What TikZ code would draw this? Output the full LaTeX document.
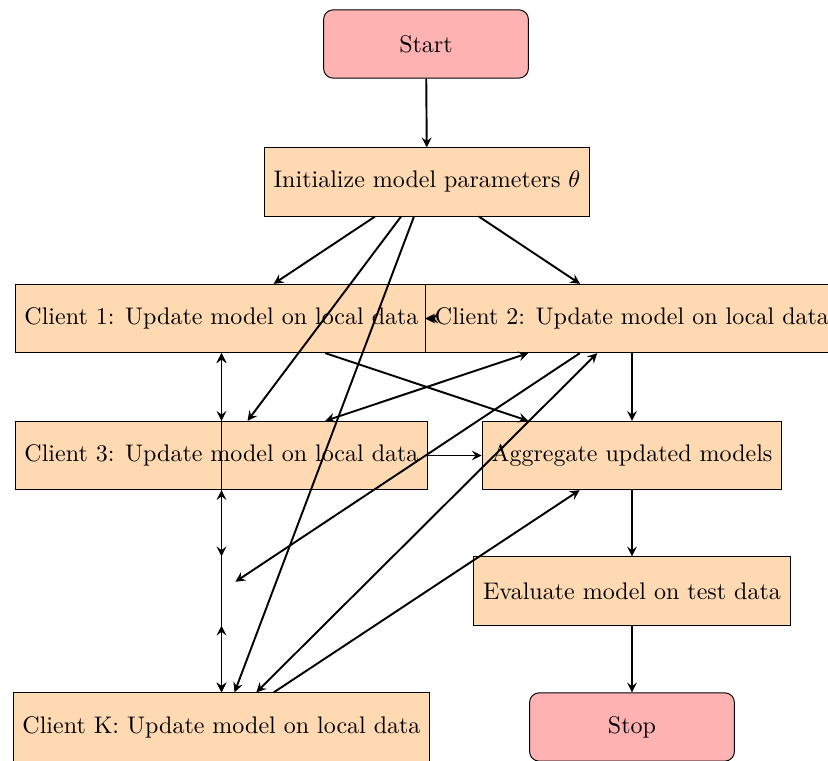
\documentclass[tikz,border=0pt]{standalone}
\usetikzlibrary{arrows}
\tikzset{
  startstop/.style={rectangle, rounded corners, minimum width=3cm, minimum height=1cm, text centered, draw=black, fill=red!30},
  process/.style={rectangle, minimum width=3cm, minimum height=1cm, inner xsep=3.9pt, text centered, draw=black, fill=orange!30},
  hidden/.style={rectangle, minimum width=11.2pt, minimum height=1cm, inner sep=0pt},
  conn/.style={thick, ->, >=stealth},
  biconn/.style={thick, <->, >=stealth}
}
\begin{document}
\begin{tikzpicture}[x=0.41667pt, y=-0.41667pt]
\useasboundingbox (0,0) rectangle (828,761);
\node[startstop] (start) at (426,44) {Start};
\node[process] (init) at (427,182) {Initialize model parameters $\theta$};
\node[process] (c1) at (221.5,318.5) {Client 1: Update model on local data};
\node[process] (c2) at (632,318.5) {Client 2: Update model on local data};
\node[process] (c3) at (221.5,455.5) {Client 3: Update model on local data};
\node[process] (agg) at (632,455.5) {Aggregate updated models};
\node[hidden] (dots) at (221.5,591) {};
\node[process] (eval) at (632,591) {Evaluate model on test data};
\node[process] (cK) at (221.5,727) {Client K: Update model on local data};
\node[startstop] (stop) at (632,727) {Stop};

\draw[conn] (start) -- (init);
\draw[conn] (init) -- (c1);
\draw[conn] (init) -- (c2);
\draw[conn] (init) -- (c3);
\draw[conn] (init) -- (cK);
\draw[biconn] (c1) -- (c2);
\draw[biconn] (c1) -- (c3);
\draw[biconn] (c1) -- (cK);
\draw[biconn] (c3) -- (dots);
\draw[biconn] (dots) -- (cK);
\draw[biconn] (c2) -- (c3);
\draw[biconn] (c2) -- (cK);
\draw[conn] (c2) -- (dots);
\draw[conn] (c1) -- (agg);
\draw[conn] (c2) -- (agg);
\draw[conn] (c3) -- (agg);
\draw[conn] (cK) -- (agg);
\draw[conn] (agg) -- (eval);
\draw[conn] (eval) -- (stop);
\end{tikzpicture}
\end{document}
